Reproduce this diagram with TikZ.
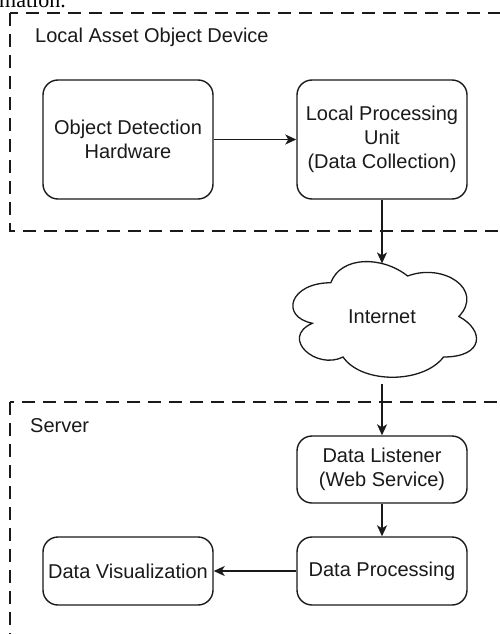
\documentclass[tikz,border=0pt]{standalone}
\usepackage{fontspec}
\setmainfont{Liberation Sans}
\newfontfamily\serifcut{Liberation Serif}
\usetikzlibrary{arrows.meta}
\definecolor{ink}{HTML}{1A1A1A}
\tikzset{
  box/.style={draw=ink, line width=1.4pt, rounded corners=15pt, align=center,
    text=ink, font=\fontsize{20}{24}\selectfont, inner sep=0pt},
  group/.style={draw=ink, line width=1.3pt, dash pattern=on 13pt off 8pt},
  grouplabel/.style={anchor=west, text=ink, font=\fontsize{20}{24}\selectfont, inner sep=0pt},
  conn/.style={draw=ink, line width=1.4pt, -{Stealth[length=11pt,width=10pt,inset=3pt]}},
}
\begin{document}
\begin{tikzpicture}[x=1pt,y=-1pt]
\useasboundingbox (0,0) rectangle (500,634);
\fill[white] (0,0) rectangle (500,634);

% cut-off caption text at the top
\node[anchor=base west, inner sep=0pt, font=\serifcut\fontsize{22}{24}\selectfont] (cap) at (-1,8) {mation.};

% groups
\draw[group] (10,13) rectangle (510,231);
\draw[group] (10,402) rectangle (510,660);
\node[grouplabel] (lbl1) at (35,37) {Local Asset Object Device};
\node[grouplabel] (lbl2) at (30,426) {Server};

% boxes
\node[box, minimum width=170pt, minimum height=119pt] (odh) at (128,139.5) {Object Detection\\Hardware};
\node[box, minimum width=170pt, minimum height=119pt] (lpu) at (382,139.5) {Local Processing\\Unit\\(Data Collection)};
\node[box, minimum width=170pt, minimum height=67pt] (dl) at (382,469.5) {Data Listener\\(Web Service)};
\node[box, minimum width=170pt, minimum height=68pt] (dp) at (382,571) {Data Processing};
\node[box, minimum width=170pt, minimum height=68pt] (dv) at (128,571) {Data Visualization};

% cloud
\begin{scope}[shift={(279.5,249)}, x=205pt, y=-135pt]
  \draw[ink, line width=1.3pt, fill=white]
    (0.25,0.25) .. controls (0.05,0.25) and (0,0.5) .. (0.16,0.55)
    .. controls (0,0.66) and (0.18,0.9) .. (0.31,0.8)
    .. controls (0.4,1) and (0.7,1) .. (0.8,0.8)
    .. controls (1,0.8) and (1,0.6) .. (0.875,0.5)
    .. controls (1,0.3) and (0.8,0.1) .. (0.625,0.2)
    .. controls (0.5,0.05) and (0.3,0.05) .. (0.25,0.25) -- cycle;
\end{scope}
\node[minimum width=205pt, minimum height=135pt, inner sep=0pt, text=ink,
  font=\fontsize{20}{24}\selectfont] (cloud) at (382,316.5) {Internet};
\coordinate (cloudtop) at (382,263.4);

% connectors
\draw[conn] (odh.east) -- (lpu.west);
\draw[conn] (lpu.south) -- (cloudtop);
\draw[conn] (cloud.south) -- (dl.north);
\draw[conn] (dl.south) -- (dp.north);
\draw[conn] (dp.west) -- (dv.east);
\end{tikzpicture}
\end{document}
